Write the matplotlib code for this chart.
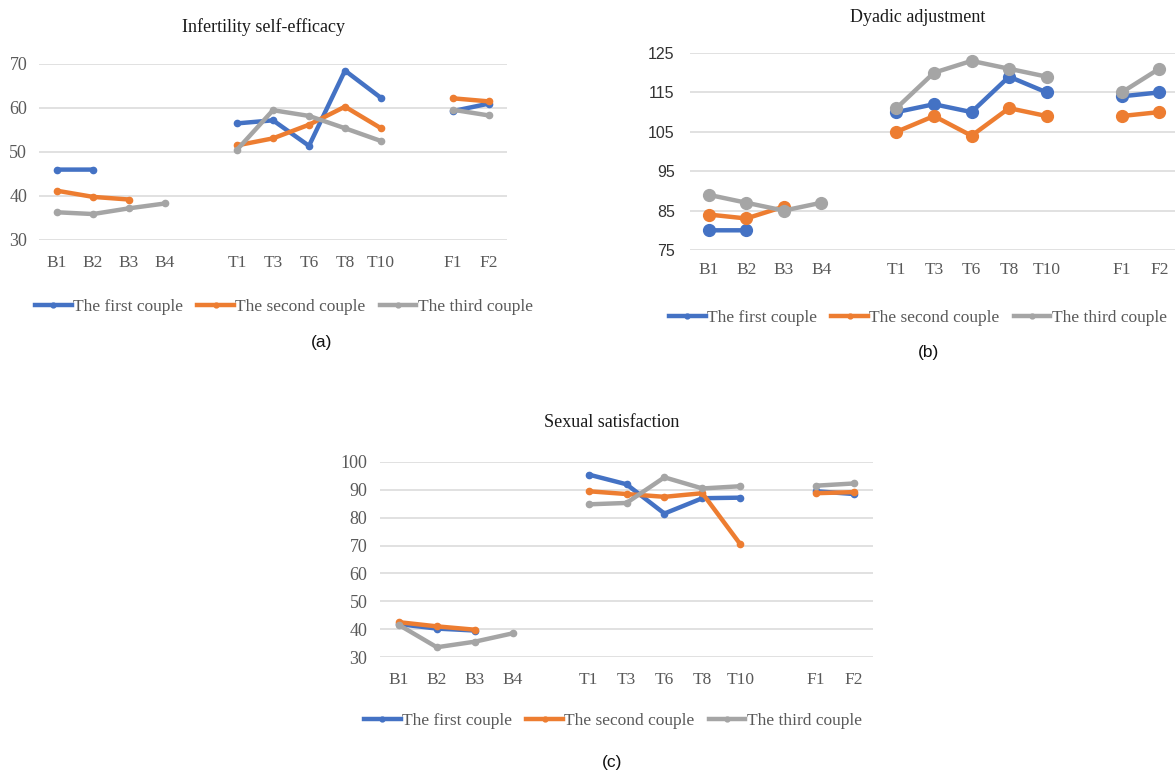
import numpy as np
import matplotlib
matplotlib.use("Agg")
import matplotlib.pyplot as plt
from matplotlib.lines import Line2D

nan = np.nan
categories = ['B1', 'B2', 'B3', 'B4', '', 'T1', 'T3', 'T6', 'T8', 'T10', '', 'F1', 'F2']
series_names = ['The first couple', 'The second couple', 'The third couple']

# (a) Infertility self-efficacy
a_first = [46.0, 46.0, nan, nan, nan, 56.5, 57.2, 51.4, 68.5, 62.3, nan, 59.3, 61.0]
a_second = [41.2, 39.8, 39.2, nan, nan, 51.5, 53.1, 56.2, 60.3, 55.4, nan, 62.2, 61.5]
a_third = [36.3, 35.9, 37.2, 38.3, nan, 50.5, 59.5, 58.2, 55.4, 52.5, nan, 59.6, 58.3]

# (b) Dyadic adjustment
b_first = [80, 80, nan, nan, nan, 110, 112, 110, 119, 115, nan, 114, 115]
b_second = [84, 83, 86, nan, nan, 105, 109, 104, 111, 109, nan, 109, 110]
b_third = [89, 87, 85, 87, nan, 111, 120, 123, 121, 119, nan, 115, 121]

# (c) Sexual satisfaction
c_first = [41.8, 40.2, 39.5, nan, nan, 95.5, 92.0, 81.5, 87.0, 87.2, nan, 89.5, 88.5]
c_second = [42.5, 41.0, 39.8, nan, nan, 89.5, 88.5, 87.5, 88.8, 70.5, nan, 88.8, 89.2]
c_third = [41.5, 33.5, 35.5, 38.5, nan, 84.8, 85.3, 94.5, 90.5, 91.3, nan, 91.5, 92.3]

colors = ['#4472C4', '#ED7D31', '#A5A5A5']
SERIF = 'Liberation Serif'
SANS = 'Liberation Sans'
TICKC = '#595959'

fig = plt.figure(figsize=(11.75, 7.73), dpi=100)


def panel(rect, data, yticks, title, title_xy, leg_xy, cap, cap_xy, ms, ysans=False, xpad=10, ypad=10):
    ax = fig.add_axes(rect)
    x = np.arange(len(categories))
    for vals, col in zip(data, colors):
        ax.plot(x, vals, color=col, lw=3.2, marker='o', ms=ms, solid_capstyle='round',
                solid_joinstyle='round', zorder=3)
    ax.set_xlim(-0.5, len(categories) - 0.5)
    ax.set_ylim(yticks[0], yticks[-1])
    ax.set_yticks(yticks)
    ax.set_xticks(x)
    ax.set_xticklabels(categories, fontfamily=SERIF, fontsize=12.5, color=TICKC)
    ax.set_yticklabels([str(t) for t in yticks], fontfamily=SANS if ysans else SERIF,
                       fontsize=11.5 if ysans else 13, color=TICKC if not ysans else '#333333')
    ax.tick_params(axis='both', length=0)
    ax.tick_params(axis='x', pad=xpad)
    ax.tick_params(axis='y', pad=ypad)
    for s in ax.spines.values():
        s.set_visible(False)
    ax.grid(axis='y', color='#D9D9D9', lw=1.1, zorder=0)
    ax.set_axisbelow(True)
    fig.text(title_xy[0], title_xy[1], title, ha='center', va='center', fontfamily=SERIF,
             fontsize=13, color='#1a1a1a')
    handles = [Line2D([0], [0], color=c, lw=3.2, marker='o', ms=3.5) for c in colors]
    fig.legend(handles, series_names, loc='center', bbox_to_anchor=leg_xy, ncol=3,
               frameon=False, handlelength=2.1, handletextpad=0.1, columnspacing=0.8,
               prop={'family': SERIF, 'size': 12.5}, labelcolor=TICKC)
    fig.text(cap_xy[0], cap_xy[1], cap, ha='center', va='center', fontfamily=SANS,
             fontsize=12.5, color='#111111')
    return ax


W, H = 1175, 773


def r(l, t, rgt, b):
    return [l / W, 1 - b / H, (rgt - l) / W, (b - t) / H]


panel(r(39, 64, 507, 240), [a_first, a_second, a_third], [30, 40, 50, 60, 70],
      'Infertility self-efficacy', (263 / W, 1 - 27 / H), (284 / W, 1 - 307 / H),
      '(a)', (322 / W, 1 - 343 / H), 4.5, xpad=11, ypad=8.5)
panel(r(690, 53, 1178, 250), [b_first, b_second, b_third], [75, 85, 95, 105, 115, 125],
      'Dyadic adjustment', (918 / W, 1 - 17 / H), (918 / W, 1 - 318 / H),
      '(b)', (928 / W, 1 - 352 / H), 8.5, ysans=True, xpad=9, ypad=11)
panel(r(380, 462, 873, 657), [c_first, c_second, c_third], [30, 40, 50, 60, 70, 80, 90, 100],
      'Sexual satisfaction', (612 / W, 1 - 423 / H), (613 / W, 1 - 721 / H),
      '(c)', (612 / W, 1 - 762 / H), 4.5, xpad=11, ypad=9)

fig.savefig('out.png', dpi=100)
